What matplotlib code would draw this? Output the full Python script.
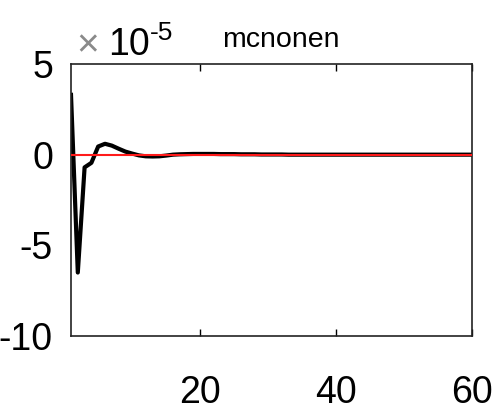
import matplotlib
matplotlib.use("Agg")
import matplotlib.pyplot as plt
import numpy as np

title = "mcnonen"
steps = list(range(1, 61))
response = [3.3, -6.5, -0.7, -0.45, 0.45, 0.6, 0.5, 0.33, 0.17, 0.06,
            -0.04, -0.09, -0.1, -0.09, -0.05, 0.0, 0.02, 0.03, 0.04, 0.04,
            0.04, 0.04, 0.03, 0.03, 0.03, 0.02, 0.02, 0.02, 0.01, 0.01,
            0.01, 0.01, 0.0, 0.0, 0.0, 0.0, 0.0, 0.0, 0.0, 0.0,
            0.0, 0.0, 0.0, 0.0, 0.0, 0.0, 0.0, 0.0, 0.0, 0.0,
            0.0, 0.0, 0.0, 0.0, 0.0, 0.0, 0.0, 0.0, 0.0, 0.0]
zero_line = [0.0] * 60
xticks = [20, 40, 60]
yticks = [5, 0, -5, -10]
ytick_labels = ["5", "0", "-5", "-10"]

plt.rcParams['font.family'] = ['Liberation Sans', 'DejaVu Sans']
fig = plt.figure(figsize=(5.04, 4.05), dpi=100)
ax = fig.add_axes([71/504, 1-336/405, (472-71)/504, (336-64)/405])
ax.plot(steps, response, color='black', lw=3.0, zorder=2)
ax.plot(steps, zero_line, color='#ff1a1a', lw=1.5, zorder=3)
ax.set_xlim(1, 60)
ax.set_ylim(-10, 5)
ax.set_xticks(xticks)
ax.set_xticklabels([str(t) for t in xticks])
ax.set_yticks(yticks)
ax.set_yticklabels(ytick_labels)
ax.tick_params(axis='x', direction='in', length=5, width=1, pad=28, labelsize=27, top=True)
ax.tick_params(axis='y', direction='in', length=0, pad=13, labelsize=27)
for s in ax.spines.values():
    s.set_linewidth(1.2)
    s.set_color('#222222')

fig.text(76/504, 1-56/405, "\u00d7", fontsize=28, color='#8a8a8a', ha='left', va='baseline')
fig.text(108/504, 1-55/405, "10", fontsize=27, color='black', ha='left', va='baseline')
fig.text(150/504, 1-40/405, "-5", fontsize=19, color='black', ha='left', va='baseline')
fig.text(222/504, 1-47/405, title, fontsize=20.5, color='black', ha='left', va='baseline')

fig.savefig("out.png", dpi=100)
